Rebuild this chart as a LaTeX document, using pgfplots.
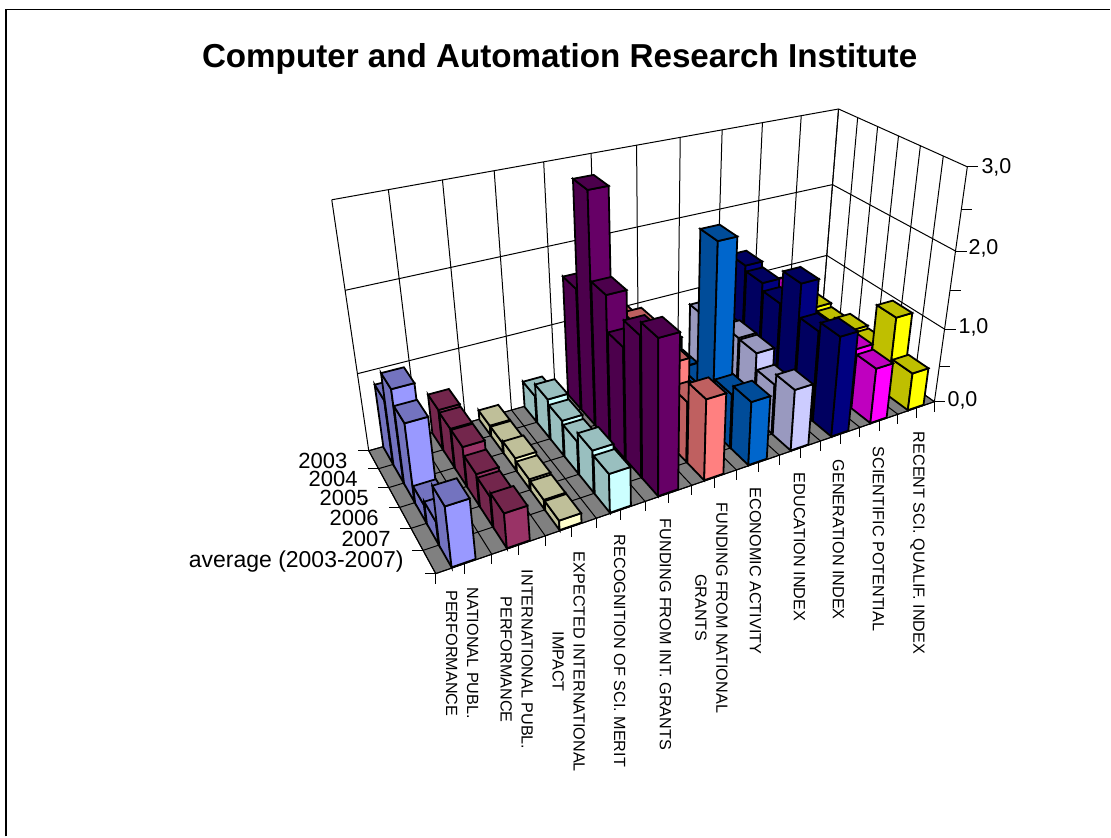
\documentclass[border=0pt]{standalone}
\usepackage{pgfplots}
\pgfplotsset{compat=1.18}
\usepackage{fontspec}
\setmainfont{Liberation Sans}
\definecolor{c1}{HTML}{9999FF}
\definecolor{c2}{HTML}{993366}
\definecolor{c3}{HTML}{FFFFCC}
\definecolor{c4}{HTML}{CCFFFF}
\definecolor{c5}{HTML}{660066}
\definecolor{c6}{HTML}{FF8080}
\definecolor{c7}{HTML}{0066CC}
\definecolor{c8}{HTML}{CCCCFF}
\definecolor{c9}{HTML}{000080}
\definecolor{c10}{HTML}{FF00FF}
\definecolor{c11}{HTML}{FFFF00}
\newcommand\Pj[4]{%
 \pgfmathsetmacro\wW{1+.2665*(#1)+.168*(#2)-.1336*(#3)}%
 \pgfmathsetmacro\rX{(436+748.2*(#1)-5*(#2)-87.6*(#3))/\wW}%
 \pgfmathsetmacro\rY{(574-64.9*(#1)-47.2*(#2)-320*(#3))/\wW}%
 \edef#4{(\rX,\rY)}}
\newcommand\Face[2]{%
 \edef\tmp{\noexpand\addplot[fill=#1,draw=black,line width=1.8pt,line join=miter,forget plot] coordinates {#2} --cycle;}\tmp}
\newcommand\Bar[3]{% colour, category index, series index, value via \Val
 \pgfmathsetmacro\xa{(#2+.5-.215)/11}\pgfmathsetmacro\xb{(#2+.5+.215)/11}%
 \pgfmathsetmacro\ya{(#3+.5-.47)/6}\pgfmathsetmacro\yb{(#3+.5+.47)/6}%
 \pgfmathsetmacro\zz{\Val/3}%
 \Pj\xa\ya{0}\pA\Pj\xa\yb{0}\pB\Pj\xa\yb\zz\pC\Pj\xa\ya\zz\pD
 \Pj\xb\ya{0}\pE\Pj\xb\ya\zz\pF\Pj\xb\yb\zz\pG
 \Face{#1!75!black}{\pA\pB\pC\pD}%
 \Face{#1}{\pA\pE\pF\pD}%
 \Face{#1!75!black}{\pD\pF\pG\pC}}
\newcommand\Row[8]{% colour, cat, 2003..average
 \def\Val{#3}\Bar{#1}{#2}{5}\def\Val{#4}\Bar{#1}{#2}{4}\def\Val{#5}\Bar{#1}{#2}{3}%
 \def\Val{#6}\Bar{#1}{#2}{2}\def\Val{#7}\Bar{#1}{#2}{1}\def\Val{#8}\Bar{#1}{#2}{0}}
\begin{document}
\begin{tikzpicture}
\begin{axis}[at={(0,0)},anchor=south west,scale only axis,width=1111pt,height=837pt,
 xmin=0,xmax=1111,ymin=0,ymax=837,y dir=reverse,axis lines=none,clip=false]
\addplot[draw=none,forget plot] coordinates {(0,0)(1111,837)};
\path (axis cs:0,0) -- (axis cs:1111,837);
% frame
\addplot[black,line width=1.5pt,forget plot] coordinates {(6,837)(6,9.5)(1111,9.5)};
% floor
\Pj{0}{0}{0}\pA\Pj{1}{0}{0}\pB\Pj{1}{1}{0}\pC\Pj{0}{1}{0}\pD
\edef\tmp{\noexpand\addplot[fill=black!50,draw=black,line width=1pt,forget plot] coordinates {\pA\pB\pC\pD} --cycle;}\tmp
% back and right wall grid
\foreach \z in {0.3333,0.6667,1}{
 \Pj{0}{1}{\z}\pA\Pj{1}{1}{\z}\pB\Pj{1}{0}{\z}\pC
 \edef\tmp{\noexpand\addplot[black,line width=1pt,forget plot] coordinates {\pA\pB\pC};}\tmp}
\foreach \i in {0,...,11}{
 \pgfmathsetmacro\u{\i/11}
 \Pj{\u}{1}{0}\pA\Pj{\u}{1}{1}\pB\Pj{\u}{0}{0}\pC
 \edef\tmp{\noexpand\addplot[black,line width=1pt,forget plot] coordinates {\pC\pA\pB};}\tmp}
\foreach \i in {0,...,6}{
 \pgfmathsetmacro\u{\i/6}
 \Pj{1}{\u}{1}\pA\Pj{1}{\u}{0}\pB\Pj{0}{\u}{0}\pC
 \edef\tmp{\noexpand\addplot[black,line width=1pt,forget plot] coordinates {\pC\pB\pA};}\tmp}
% bars  2003 2004 2005 2006 2007 average
\Row{c11}{10}{0.50}{0.45}{0.53}{0.50}{1.07}{0.51}
\Row{c10}{9}{0.85}{0.60}{0.55}{0.50}{0.80}{0.74}
\Row{c9}{8}{1.36}{1.29}{1.19}{1.62}{1.19}{1.31}
\Row{c8}{7}{0.80}{0.85}{0.88}{0.87}{0.66}{0.80}
\Row{c7}{6}{0.60}{0.44}{0.45}{2.39}{0.70}{0.82}
\Row{c6}{5}{1.02}{1.16}{0.95}{1.06}{0.78}{1.03}
\Row{c5}{4}{1.59}{2.91}{1.86}{1.42}{1.75}{1.91}
\Row{c4}{3}{0.35}{0.52}{0.46}{0.42}{0.54}{0.49}
\Row{c3}{2}{0.13}{0.13}{0.16}{0.13}{0.12}{0.12}
\Row{c2}{1}{0.52}{0.50}{0.50}{0.40}{0.37}{0.43}
\Row{c1}{0}{0.82}{1.17}{0.98}{0.22}{0.28}{0.73}
% ticks
\foreach \i in {0,...,22}{
 \pgfmathsetmacro\u{\i/22}\Pj{\u}{0}{0}\pA
 \pgfmathsetmacro\yy{\rY+10}\edef\tmp{\noexpand\addplot[black,line width=1pt,forget plot] coordinates {\pA(\rX,\yy)};}\tmp}
\foreach \i in {0,...,6}{
 \pgfmathsetmacro\u{\i/6}\Pj{0}{\u}{0}\pA
 \pgfmathsetmacro\xx{\rX-11}\edef\tmp{\noexpand\addplot[black,line width=1pt,forget plot] coordinates {\pA(\xx,\rY)};}\tmp}
\foreach \i in {0,...,6}{
 \pgfmathsetmacro\u{\i/6}\Pj{1}{0}{\u}\pA
 \pgfmathsetmacro\xx{\rX+11}\edef\tmp{\noexpand\addplot[black,line width=1pt,forget plot] coordinates {\pA(\xx,\rY)};}\tmp}
% texts
\node[anchor=center,font=\bfseries\fontsize{33.2}{36}\selectfont] at (axis cs:560,58.5) {Computer and Automation Research Institute};
\node[anchor=west,inner sep=0pt,font=\fontsize{21.5}{22}\selectfont] at (axis cs:982,167) {3,0};
\node[anchor=west,inner sep=0pt,font=\fontsize{21.5}{22}\selectfont] at (axis cs:969,249) {2,0};
\node[anchor=west,inner sep=0pt,font=\fontsize{21.5}{22}\selectfont] at (axis cs:959,328) {1,0};
\node[anchor=west,inner sep=0pt,font=\fontsize{21.5}{22}\selectfont] at (axis cs:948,401) {0,0};
\node[anchor=east,inner sep=0pt,font=\fontsize{22}{22}\selectfont] at (axis cs:347.7,461.5) {2003};
\node[anchor=east,inner sep=0pt,font=\fontsize{22}{22}\selectfont] at (axis cs:358,479.5) {2004};
\node[anchor=east,inner sep=0pt,font=\fontsize{22}{22}\selectfont] at (axis cs:369,498.5) {2005};
\node[anchor=east,inner sep=0pt,font=\fontsize{22}{22}\selectfont] at (axis cs:379,518) {2006};
\node[anchor=east,inner sep=0pt,font=\fontsize{22}{22}\selectfont] at (axis cs:391,539) {2007};
\node[anchor=east,inner sep=0pt,font=\fontsize{23}{23}\selectfont] at (axis cs:404,562) {average (2003-2007)};
\foreach \xx/\yy/\t in {
 462.5/588/{NATIONAL PUBL.\\PERFORMANCE},
 517/570/{INTERNATIONAL PUBL.\\PERFORMANCE},
 569/552/{EXPECTED INTERNATIONAL\\IMPACT},
 620/535/{RECOGNITION OF SCI. MERIT},
 666/519/{FUNDING FROM INT. GRANTS},
 712/503/{FUNDING FROM NATIONAL\\GRANTS},
 756/488/{ECONOMIC ACTIVITY},
 800/473/{EDUCATION INDEX},
 839/460/{GENERATION INDEX},
 879/447/{SCIENTIFIC POTENTIAL},
 918/432/{RECENT SCI. QUALIF. INDEX}}{
 \edef\tmp{\noexpand\node[rotate=-90,anchor=west,align=center,inner sep=0pt,font=\noexpand\fontsize{16.2}{21}\noexpand\selectfont] at (axis cs:\xx,\yy) {\unexpanded\expandafter{\t}};}\tmp}
\end{axis}
\end{tikzpicture}
\end{document}
